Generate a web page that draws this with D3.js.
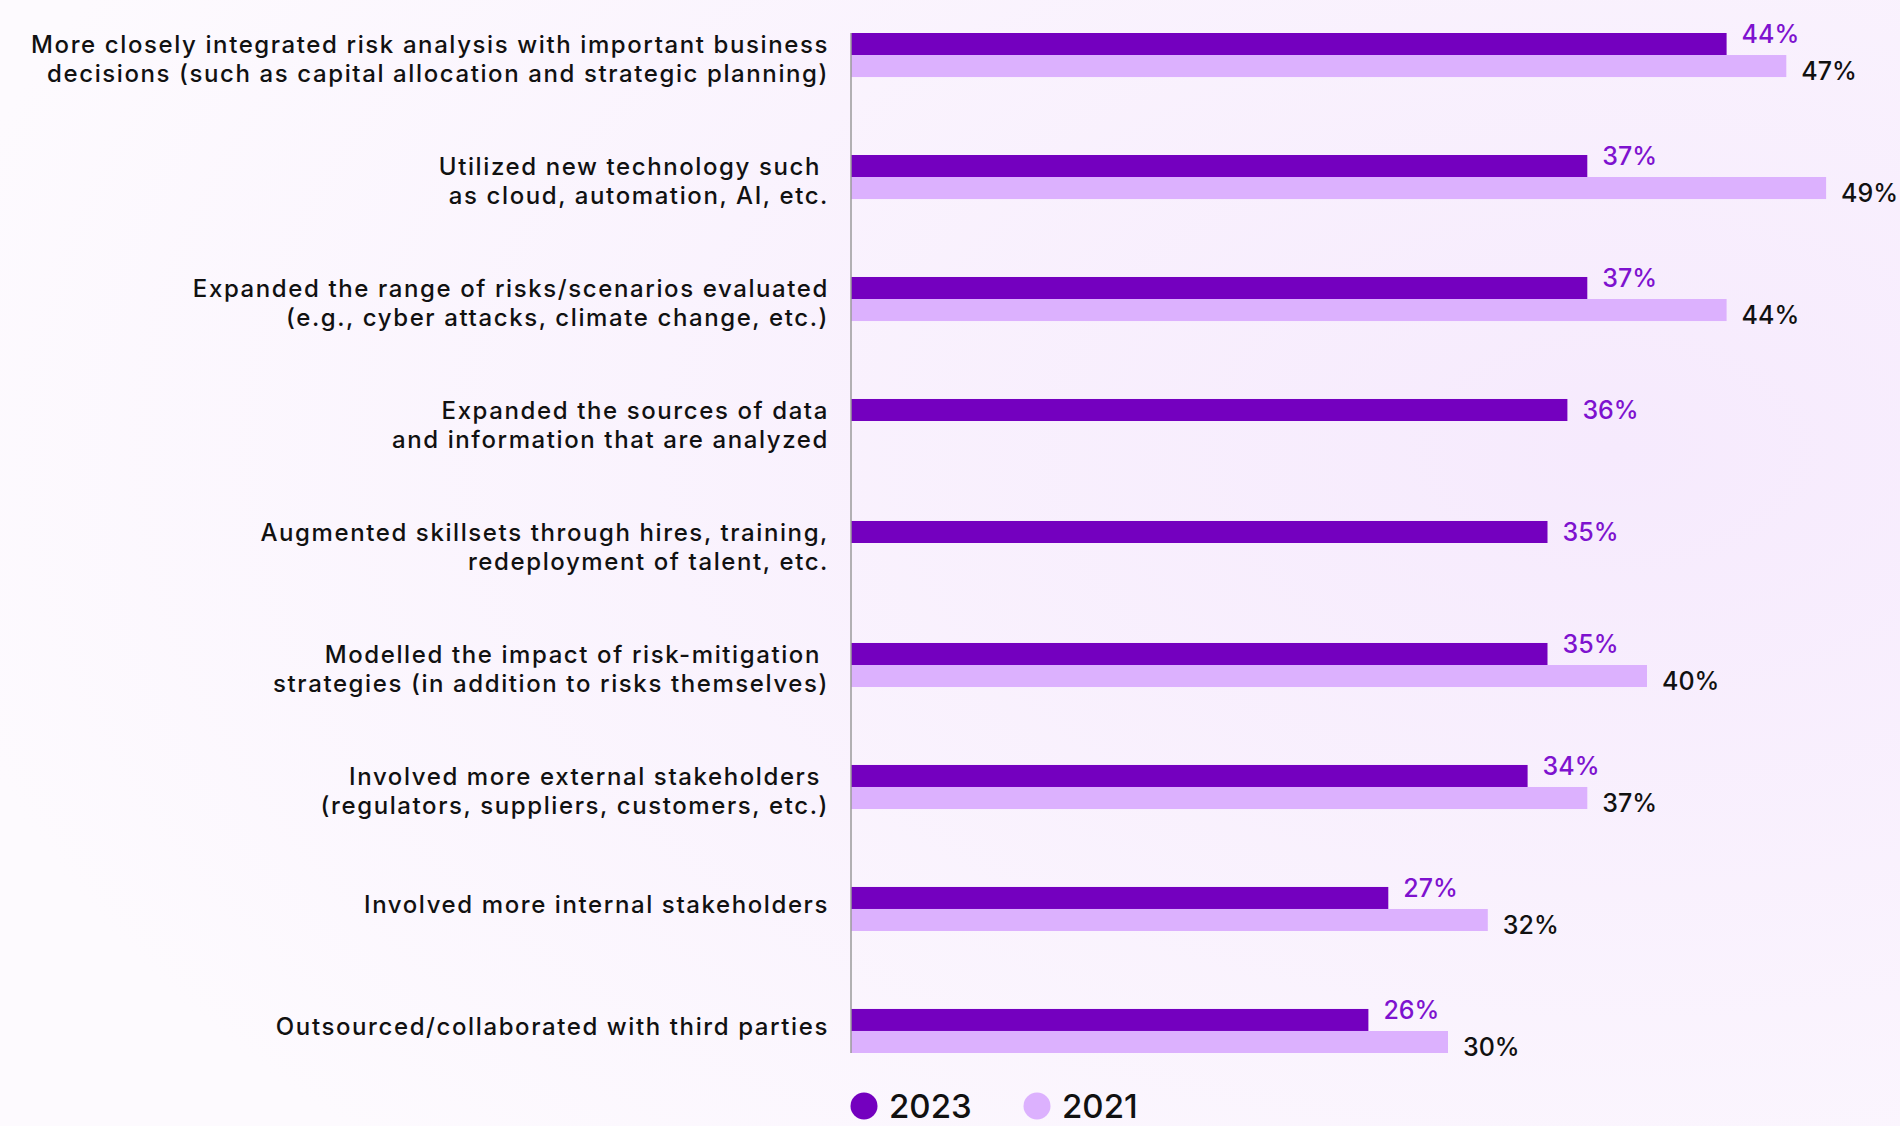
<!DOCTYPE html>
<html>
<head>
<meta charset="utf-8">
<script src="https://cdn.jsdelivr.net/npm/d3@7/dist/d3.min.js"></script>
<style>
  html, body { margin: 0; padding: 0; background: #fff; }
  svg { display: block; }
  text { font-family: Inter, "Open Sans", sans-serif; white-space: pre; }
</style>
</head>
<body>
<svg width="1900" height="1126"></svg>
<script>
// категории (строки подписи)
const categories = [
    ["More closely integrated risk analysis with important business", "decisions (such as capital allocation and strategic planning)"],
    ["Utilized new technology such ", "as cloud, automation, AI, etc."],
    ["Expanded the range of risks/scenarios evaluated", "(e.g., cyber attacks, climate change, etc.)"],
    ["Expanded the sources of data", "and information that are analyzed"],
    ["Augmented skillsets through hires, training,", "redeployment of talent, etc."],
    ["Modelled the impact of risk-mitigation ", "strategies (in addition to risks themselves)"],
    ["Involved more external stakeholders ", "(regulators, suppliers, customers, etc.)"],
    ["Involved more internal stakeholders"],
    ["Outsourced/collaborated with third parties"]
];

const series = ["2023", "2021"];
const values2023 = [44, 37, 37, 36, 35, 35, 34, 27, 26];
const values2021 = [47, 49, 44, null, null, 40, 37, 32, 30];

const colors = { "2023": "#7400BF", "2021": "#DCB1FE" };
const labelColors = { "2023": "#7E12CF", "2021": "#111111" };

const svg = d3.select("svg");
const width = +svg.attr("width");
const height = +svg.attr("height");

// фон
const defs = svg.append("defs");
const grad = defs.append("radialGradient").attr("id", "bg").attr("cx", "0.85").attr("cy", "0.4").attr("r", "0.9");
grad.append("stop").attr("offset", "0").attr("stop-color", "#F6EAFD");
grad.append("stop").attr("offset", "1").attr("stop-color", "#FDFAFE");
svg.append("rect").attr("width", width).attr("height", height).attr("fill", "url(#bg)");

const axisX = 851;

const x = d3.scaleLinear()
    .domain([0, 50])
    .range([axisX, axisX + 995]);

const keys = categories.map((c, i) => i);

const y = d3.scaleBand()
    .domain(keys)
    .range([33, 1053])
    .paddingInner(0.639)
    .paddingOuter(0);

const ySub = d3.scaleBand()
    .domain(series)
    .range([0, y.bandwidth()]);

const rows = keys.map(i => ({
    i,
    lines: categories[i],
    vals: [
        { key: "2023", v: values2023[i] },
        { key: "2021", v: values2021[i] }
    ].filter(d => d.v !== null)
}));

const g = svg.append("g");

const row = g.selectAll("g.row")
    .data(rows)
    .join("g")
    .attr("class", "row")
    .attr("transform", d => `translate(0,${y(d.i)})`);

// столбики
row.selectAll("rect")
    .data(d => d.vals)
    .join("rect")
    .attr("x", x(0))
    .attr("y", d => ySub(d.key))
    .attr("width", d => x(d.v) - x(0))
    .attr("height", ySub.bandwidth())
    .attr("fill", d => colors[d.key]);

// подписи значений
row.each(function (d) {
    const single = d.vals.length === 1;
    d3.select(this).selectAll("text.val")
        .data(d.vals)
        .join("text")
        .attr("class", "val")
        .attr("x", v => x(v.v) + 15)
        .attr("y", v => {
            if (single) return ySub(v.key) + ySub.bandwidth() / 2;
            return v.key === "2023" ? ySub(v.key) + 1 : ySub(v.key) + ySub.bandwidth() / 2 + 5;
        })
        .attr("dy", "0.36em")
        .attr("font-size", 25)
        .attr("font-weight", 500)
        .attr("fill", v => labelColors[v.key])
        .text(v => v.v + "%");
});

// подписи категорий
const lineH = 29;
row.append("text")
    .attr("text-anchor", "end")
    .attr("font-size", 24)
    .attr("font-weight", 500)
    .attr("letter-spacing", 1.6)
    .attr("fill", "#111")
    .each(function (d) {
        const n = d.lines.length;
        const c = y.bandwidth() / 2 + (n === 2 ? 4 : -5);
        d3.select(this).selectAll("tspan")
            .data(d.lines)
            .join("tspan")
            .attr("x", axisX - 22)
            .attr("y", (t, k) => c - (n - 1) * lineH / 2 + k * lineH)
            .attr("dy", "0.36em")
            .text(t => t);
    });

// ось
g.append("line")
    .attr("x1", axisX).attr("x2", axisX)
    .attr("y1", y.range()[0]).attr("y2", y.range()[1])
    .attr("stroke", "#9a9a9a")
    .attr("stroke-width", 1.5);

// легенда
const legend = svg.append("g")
    .attr("transform", "translate(864,1106)");

const li = legend.selectAll("g")
    .data(series)
    .join("g")
    .attr("transform", (d, i) => `translate(${i * 173},0)`);

li.append("circle")
    .attr("r", 13.5)
    .attr("fill", d => colors[d]);

li.append("text")
    .attr("x", 25)
    .attr("dy", "0.36em")
    .attr("font-size", 33)
    .attr("font-weight", 500)
    .attr("fill", "#111")
    .text(d => d);
</script>
</body>
</html>
